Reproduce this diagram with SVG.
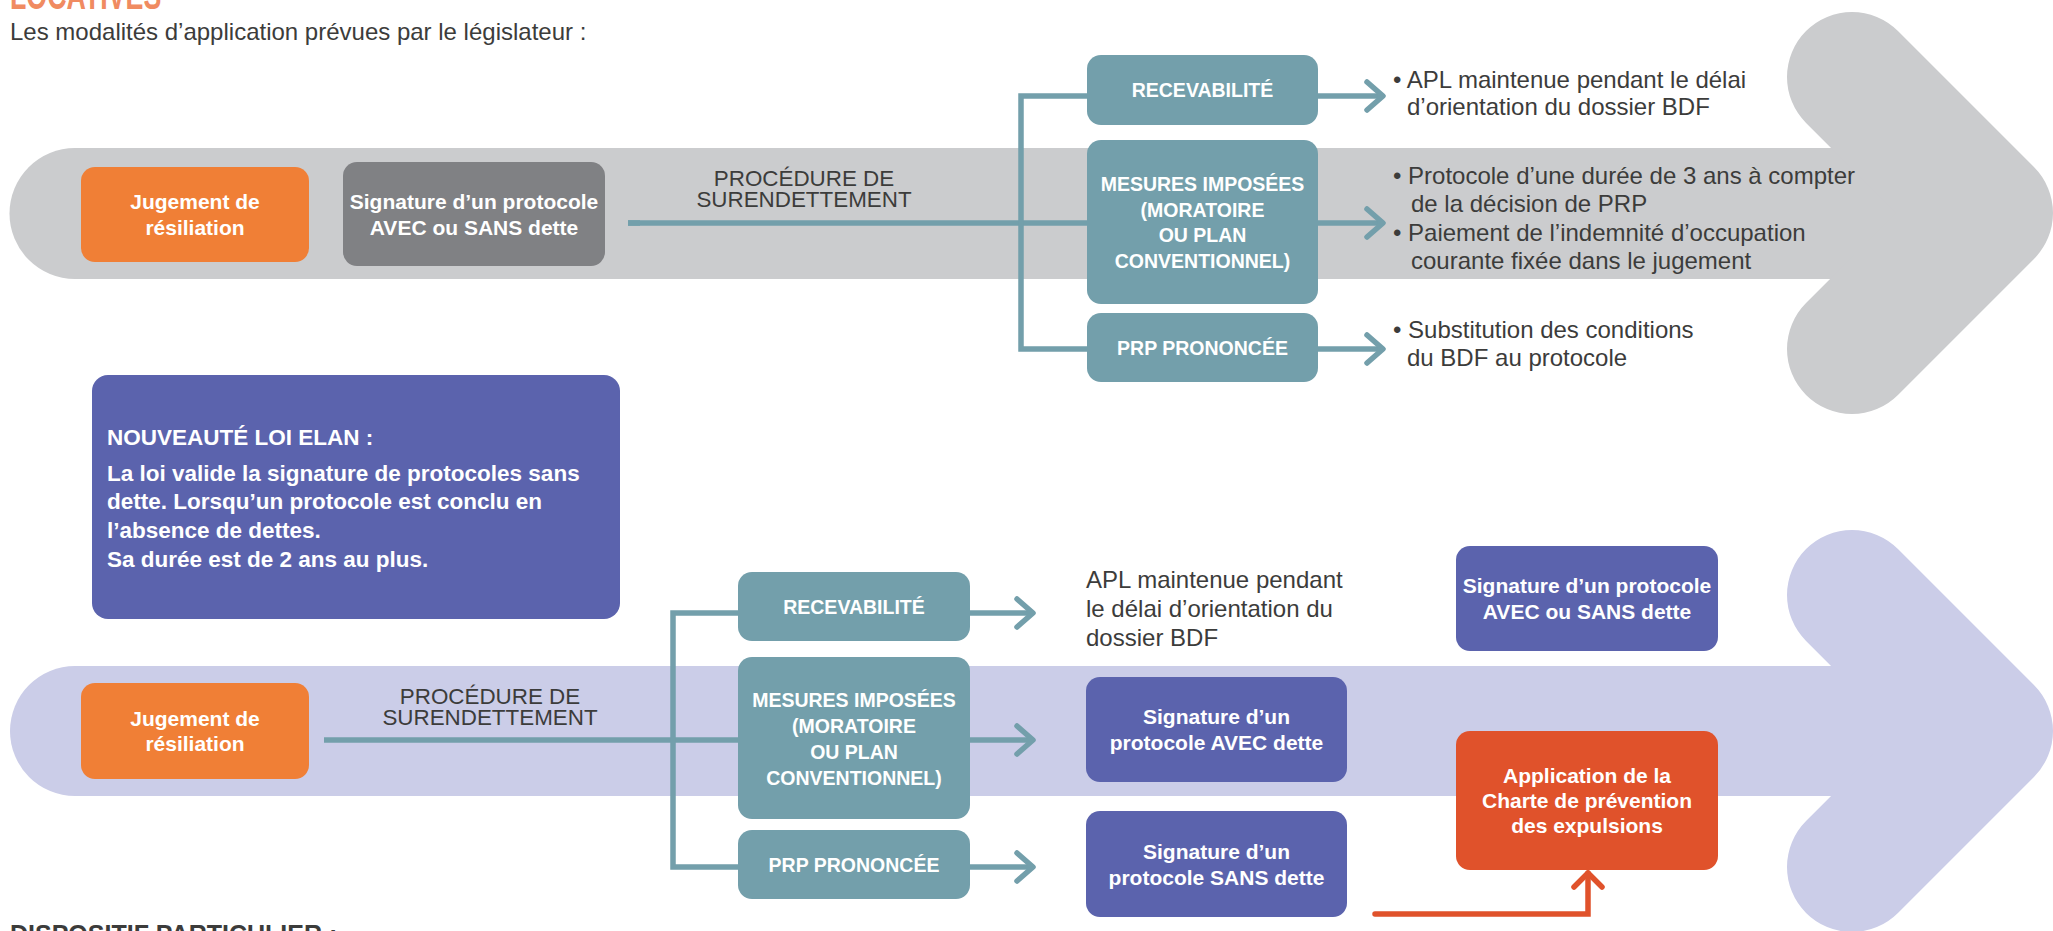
<svg xmlns="http://www.w3.org/2000/svg" width="2053" height="931" viewBox="0 0 2053 931">
<defs>
<style>
.f{font-family:"Liberation Sans",Arial,sans-serif}
.nb{font-family:"Liberation Sans",Arial,sans-serif;font-weight:bold;font-size:21px;fill:#ffffff;text-anchor:middle}
.tb{font-family:"Liberation Sans",Arial,sans-serif;font-weight:bold;font-size:19.5px;fill:#ffffff;text-anchor:middle}
.reg{font-family:"Liberation Sans",Arial,sans-serif;font-size:24px;fill:#3c3c3b}
.proc{font-family:"Liberation Sans",Arial,sans-serif;font-size:22.4px;fill:#3c3c3b;text-anchor:middle}
.nv{font-family:"Liberation Sans",Arial,sans-serif;font-weight:bold;font-size:22.5px;fill:#ffffff}
.teal{fill:#739fab}
.blue{fill:#5b63ad}
.conn{fill:none;stroke:#739fab;stroke-width:5.5;stroke-linejoin:miter;stroke-linecap:butt}
.arr{marker-end:url(#ah)}
.band1{fill:#cbccce}
.band2{fill:#cbcde8}
</style>
<marker id="ah" markerUnits="userSpaceOnUse" markerWidth="30" markerHeight="40" refX="19" refY="17" orient="auto" overflow="visible">
<path d="M3,3 L19,17 L3,31" fill="none" stroke="#739fab" stroke-width="5.5" stroke-linecap="round" stroke-linejoin="round"/>
</marker>
<marker id="aho" markerUnits="userSpaceOnUse" markerWidth="30" markerHeight="40" refX="19" refY="17" orient="auto" overflow="visible">
<path d="M5,3 L19,17 L5,31" fill="none" stroke="#e0522b" stroke-width="5.5" stroke-linecap="round" stroke-linejoin="round"/>
</marker>
</defs>
<rect width="2053" height="931" fill="#ffffff"/>

<g id="header">
<text class="f" transform="translate(10,9) scale(0.67,1)" x="0" y="0" font-size="40" font-weight="bold" fill="#f08b61">LOCATIVES</text>
<text class="reg" x="10" y="40">Les modalités d’application prévues par le législateur :</text>
</g>

<g id="band-top">
<path class="band1" d="M75,148 H1900 V279 H75 A65.5,65.5 0 0 1 75,148 Z"/>
<polyline class="band1" points="1852,77 1988,213 1852,349" stroke="#cbccce" stroke-width="130" stroke-linecap="round" stroke-linejoin="round"/>
</g>
<g id="band-bottom">
<path class="band2" d="M75,666 H1900 V796 H75 A65,65 0 0 1 75,666 Z"/>
<polyline class="band2" points="1852,595 1988,731 1852,867" stroke="#cbcde8" stroke-width="130" stroke-linecap="round" stroke-linejoin="round"/>
</g>

<g id="connectors">
<path class="conn" d="M628,223 H1087"/>
<path class="conn" d="M628,223 H640" stroke-linecap="round"/>
<path class="conn" d="M1087,96 H1021 V349 H1087"/>
<path class="conn arr" d="M1318,96 H1383"/>
<path class="conn arr" d="M1318,223 H1383"/>
<path class="conn arr" d="M1318,349 H1383"/>
<path class="conn" d="M324,740 H738" stroke-linecap="round"/>
<path class="conn" d="M738,613 H673 V867 H738"/>
<path class="conn arr" d="M970,613 H1033"/>
<path class="conn arr" d="M970,740 H1033"/>
<path class="conn arr" d="M970,867 H1033"/>
<path d="M1375,914 H1588 V873" fill="none" stroke="#e0522b" stroke-width="5.5" stroke-linecap="round" marker-end="url(#aho)"/>
</g>

<g id="jugement-top">
<rect x="81" y="167" width="228" height="95" rx="14" fill="#f07f36"/>
<text class="nb" x="195" y="209">Jugement de</text>
<text class="nb" x="195" y="235">résiliation</text>
</g>
<g id="signature-top">
<rect x="343" y="162" width="262" height="104" rx="14" fill="#808184"/>
<text class="nb" x="474" y="209">Signature d’un protocole</text>
<text class="nb" x="474" y="235">AVEC ou SANS dette</text>
</g>
<g id="procedure-top">
<text class="proc" x="804" y="186">PROCÉDURE DE</text>
<text class="proc" x="804" y="207">SURENDETTEMENT</text>
</g>
<g id="recevabilite-top">
<rect class="teal" x="1087" y="55" width="231" height="70" rx="14"/>
<text class="tb" x="1202.5" y="97">RECEVABILITÉ</text>
</g>
<g id="mesures-top">
<rect class="teal" x="1087" y="140" width="231" height="164" rx="14"/>
<text class="tb" x="1202.5" y="191">MESURES IMPOSÉES</text>
<text class="tb" x="1202.5" y="217">(MORATOIRE</text>
<text class="tb" x="1202.5" y="242">OU PLAN</text>
<text class="tb" x="1202.5" y="268">CONVENTIONNEL)</text>
</g>
<g id="prp-top">
<rect class="teal" x="1087" y="313" width="231" height="69" rx="14"/>
<text class="tb" x="1202.5" y="355">PRP PRONONCÉE</text>
</g>
<g id="notes-top">
<text class="reg" x="1393" y="88">• APL maintenue pendant le délai</text>
<text class="reg" x="1407" y="115">d’orientation du dossier BDF</text>
<text class="reg" x="1393" y="184">• Protocole d’une durée de 3 ans à compter</text>
<text class="reg" x="1411" y="212">de la décision de PRP</text>
<text class="reg" x="1393" y="241">• Paiement de l’indemnité d’occupation</text>
<text class="reg" x="1411" y="269">courante fixée dans le jugement</text>
<text class="reg" x="1393" y="338">• Substitution des conditions</text>
<text class="reg" x="1407" y="366">du BDF au protocole</text>
</g>

<g id="nouveaute">
<rect class="blue" x="92" y="375" width="528" height="244" rx="16"/>
<text class="nv" x="107" y="445">NOUVEAUTÉ LOI ELAN :</text>
<text class="nv" x="107" y="481">La loi valide la signature de protocoles sans</text>
<text class="nv" x="107" y="509">dette. Lorsqu’un protocole est conclu en</text>
<text class="nv" x="107" y="538">l’absence de dettes.</text>
<text class="nv" x="107" y="567">Sa durée est de 2 ans au plus.</text>
</g>
<g id="jugement-bottom">
<rect x="81" y="683" width="228" height="96" rx="14" fill="#f07f36"/>
<text class="nb" x="195" y="726">Jugement de</text>
<text class="nb" x="195" y="751">résiliation</text>
</g>
<g id="procedure-bottom">
<text class="proc" x="490" y="704">PROCÉDURE DE</text>
<text class="proc" x="490" y="725">SURENDETTEMENT</text>
</g>
<g id="recevabilite-bottom">
<rect class="teal" x="738" y="572" width="232" height="69" rx="14"/>
<text class="tb" x="854" y="614">RECEVABILITÉ</text>
</g>
<g id="mesures-bottom">
<rect class="teal" x="738" y="657" width="232" height="162" rx="14"/>
<text class="tb" x="854" y="707">MESURES IMPOSÉES</text>
<text class="tb" x="854" y="733">(MORATOIRE</text>
<text class="tb" x="854" y="759">OU PLAN</text>
<text class="tb" x="854" y="785">CONVENTIONNEL)</text>
</g>
<g id="prp-bottom">
<rect class="teal" x="738" y="830" width="232" height="69" rx="14"/>
<text class="tb" x="854" y="872">PRP PRONONCÉE</text>
</g>
<g id="apl-bottom">
<text class="reg" x="1086" y="588">APL maintenue pendant</text>
<text class="reg" x="1086" y="617">le délai d’orientation du</text>
<text class="reg" x="1086" y="646">dossier BDF</text>
</g>
<g id="avec-dette">
<rect class="blue" x="1086" y="677" width="261" height="105" rx="14"/>
<text class="nb" x="1216.5" y="724">Signature d’un</text>
<text class="nb" x="1216.5" y="750">protocole AVEC dette</text>
</g>
<g id="sans-dette">
<rect class="blue" x="1086" y="811" width="261" height="106" rx="14"/>
<text class="nb" x="1216.5" y="859">Signature d’un</text>
<text class="nb" x="1216.5" y="885">protocole SANS dette</text>
</g>
<g id="avec-ou-sans">
<rect class="blue" x="1456" y="546" width="262" height="105" rx="14"/>
<text class="nb" x="1587" y="593">Signature d’un protocole</text>
<text class="nb" x="1587" y="619">AVEC ou SANS dette</text>
</g>
<g id="charte">
<rect x="1456" y="731" width="262" height="139" rx="14" fill="#e0522b"/>
<text class="nb" x="1587" y="783">Application de la</text>
<text class="nb" x="1587" y="808">Charte de prévention</text>
<text class="nb" x="1587" y="833">des expulsions</text>
</g>
<g id="footer">
<text class="f" x="10" y="943" font-size="25" font-weight="bold" fill="#3c3c3b">DISPOSITIF PARTICULIER :</text>
</g>
</svg>
